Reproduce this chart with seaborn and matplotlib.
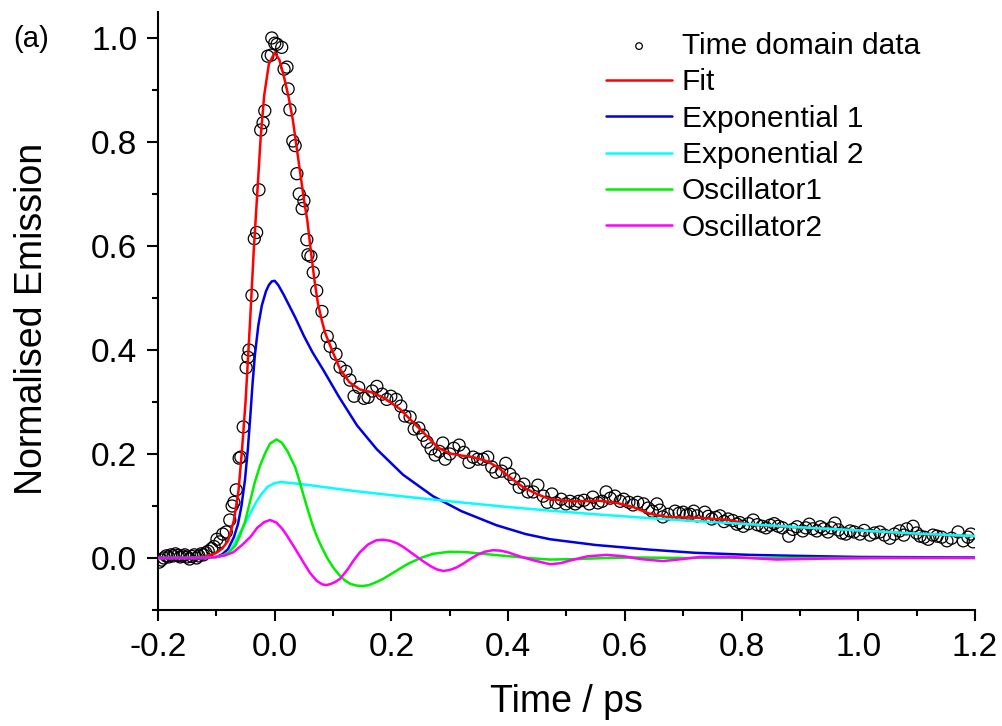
import matplotlib
matplotlib.use("Agg")
import matplotlib.pyplot as plt
import pandas as pd
import numpy as np
import seaborn as sns

# time domain data (ps, normalised emission)
t_data = [-0.198, -0.194, -0.190, -0.186, -0.182, -0.178, -0.174, -0.170, -0.166, -0.162,
          -0.158, -0.154, -0.150, -0.146, -0.142, -0.138, -0.134, -0.130, -0.126, -0.122,
          -0.118, -0.114, -0.108, -0.104, -0.099, -0.094, -0.089, -0.083, -0.077, -0.073,
          -0.070, -0.066, -0.061, -0.058, -0.054, -0.049, -0.046, -0.044, -0.039, -0.035,
          -0.031, -0.027, -0.024, -0.020, -0.017, -0.012, -0.006, -0.005, 0.000, 0.004,
          0.012, 0.016, 0.021, 0.023, 0.026, 0.031, 0.035, 0.038, 0.042, 0.047,
          0.050, 0.055, 0.057, 0.062, 0.066, 0.072, 0.081, 0.090, 0.095, 0.105,
          0.112, 0.122, 0.129, 0.136, 0.144, 0.153, 0.160, 0.167, 0.175, 0.184,
          0.192, 0.199, 0.208, 0.216, 0.223, 0.232, 0.239, 0.247, 0.254, 0.261,
          0.268, 0.275, 0.282, 0.288, 0.292, 0.300, 0.307, 0.316, 0.324, 0.333,
          0.340, 0.348, 0.357, 0.365, 0.372, 0.379, 0.389, 0.396, 0.403, 0.410,
          0.419, 0.427, 0.434, 0.443, 0.451, 0.460, 0.467, 0.475, 0.482, 0.491,
          0.499, 0.506, 0.515, 0.521, 0.530, 0.539, 0.545, 0.554, 0.561, 0.568,
          0.575, 0.583, 0.592, 0.598, 0.607, 0.614, 0.622, 0.632, 0.640, 0.647,
          0.655, 0.660, 0.665, 0.674, 0.686, 0.693, 0.700, 0.706, 0.712, 0.718,
          0.724, 0.737, 0.743, 0.749, 0.756, 0.763, 0.770, 0.777, 0.785, 0.792,
          0.797, 0.803, 0.812, 0.820, 0.827, 0.835, 0.842, 0.849, 0.856, 0.863,
          0.870, 0.881, 0.888, 0.895, 0.905, 0.910, 0.916, 0.922, 0.929, 0.935,
          0.941, 0.948, 0.954, 0.960, 0.966, 0.972, 0.979, 0.986, 0.993, 1.003,
          1.010, 1.020, 1.028, 1.037, 1.045, 1.054, 1.062, 1.071, 1.078, 1.083,
          1.094, 1.100, 1.106, 1.113, 1.120, 1.128, 1.135, 1.143, 1.152, 1.160,
          1.171, 1.180, 1.188, 1.193, 1.197]
em_data = [-0.008, -0.004, 0.000, 0.004, 0.002, 0.006, 0.004, 0.008, 0.005, 0.002,
           0.004, 0.006, 0.002, -0.002, 0.003, 0.006, 0.000, 0.004, 0.008, 0.006,
           0.010, 0.013, 0.018, 0.022, 0.036, 0.031, 0.046, 0.050, 0.073, 0.100,
           0.107, 0.131, 0.192, 0.194, 0.252, 0.366, 0.386, 0.400, 0.505, 0.614,
           0.626, 0.708, 0.823, 0.837, 0.860, 0.965, 0.967, 1.000, 0.990, 0.988,
           0.982, 0.940, 0.944, 0.902, 0.862, 0.802, 0.793, 0.739, 0.700, 0.672,
           0.687, 0.612, 0.583, 0.580, 0.549, 0.514, 0.474, 0.426, 0.407, 0.392,
           0.367, 0.359, 0.342, 0.311, 0.328, 0.307, 0.309, 0.321, 0.330, 0.315,
           0.305, 0.311, 0.305, 0.292, 0.273, 0.271, 0.248, 0.250, 0.236, 0.223,
           0.210, 0.198, 0.205, 0.221, 0.190, 0.200, 0.211, 0.217, 0.203, 0.184,
           0.194, 0.190, 0.190, 0.194, 0.175, 0.165, 0.167, 0.182, 0.161, 0.152,
           0.136, 0.142, 0.127, 0.127, 0.140, 0.119, 0.107, 0.123, 0.106, 0.113,
           0.104, 0.109, 0.104, 0.109, 0.111, 0.104, 0.117, 0.106, 0.109, 0.127,
           0.115, 0.119, 0.109, 0.113, 0.107, 0.102, 0.107, 0.104, 0.096, 0.090,
           0.104, 0.092, 0.079, 0.084, 0.090, 0.086, 0.088, 0.083, 0.084, 0.090,
           0.081, 0.088, 0.080, 0.075, 0.078, 0.081, 0.070, 0.075, 0.072, 0.065,
           0.068, 0.061, 0.066, 0.073, 0.064, 0.061, 0.058, 0.063, 0.066, 0.061,
           0.058, 0.042, 0.055, 0.060, 0.052, 0.058, 0.065, 0.056, 0.052, 0.060,
           0.056, 0.050, 0.058, 0.067, 0.054, 0.048, 0.046, 0.052, 0.050, 0.046,
           0.053, 0.044, 0.048, 0.050, 0.044, 0.038, 0.046, 0.052, 0.044, 0.056,
           0.061, 0.048, 0.042, 0.040, 0.036, 0.044, 0.042, 0.040, 0.033, 0.038,
           0.050, 0.033, 0.040, 0.046, 0.031]

# fit and its components
t_fit = [-0.200, -0.150, -0.120, -0.100, -0.090, -0.080, -0.070, -0.062, -0.056, -0.050,
         -0.042, -0.036, -0.030, -0.024, -0.018, -0.010, 0.000, 0.008, 0.016, 0.024,
         0.031, 0.040, 0.050, 0.056, 0.062, 0.068, 0.074, 0.080, 0.086, 0.098,
         0.112, 0.128, 0.146, 0.168, 0.190, 0.215, 0.237, 0.261, 0.280, 0.300,
         0.320, 0.340, 0.364, 0.383, 0.403, 0.426, 0.449, 0.472, 0.511, 0.557,
         0.586, 0.614, 0.643, 0.672, 0.729, 0.780, 0.814, 0.871, 0.957, 1.015,
         1.100, 1.200]
fit = [0.000, 0.000, 0.002, 0.010, 0.018, 0.033, 0.072, 0.130, 0.209, 0.300,
       0.460, 0.590, 0.700, 0.810, 0.890, 0.950, 0.972, 0.958, 0.925, 0.885,
       0.843, 0.770, 0.690, 0.648, 0.590, 0.535, 0.490, 0.460, 0.434, 0.400,
       0.363, 0.338, 0.324, 0.318, 0.306, 0.286, 0.261, 0.234, 0.212, 0.201,
       0.197, 0.194, 0.186, 0.174, 0.155, 0.136, 0.123, 0.113, 0.109, 0.110,
       0.106, 0.098, 0.085, 0.079, 0.077, 0.073, 0.064, 0.060, 0.056, 0.052,
       0.046, 0.042]

t_exp1 = [-0.200, -0.120, -0.100, -0.090, -0.080, -0.070, -0.063, -0.057, -0.051, -0.046,
          -0.042, -0.038, -0.034, -0.028, -0.022, -0.015, -0.010, -0.005, 0.000, 0.006,
          0.015, 0.025, 0.035, 0.050, 0.065, 0.083, 0.110, 0.141, 0.175, 0.220,
          0.271, 0.320, 0.380, 0.430, 0.472, 0.550, 0.643, 0.720, 0.814, 0.900,
          1.000, 1.200]
exp1 = [0.000, 0.000, 0.002, 0.007, 0.017, 0.040, 0.065, 0.100, 0.150, 0.210,
        0.270, 0.335, 0.390, 0.448, 0.486, 0.513, 0.525, 0.532, 0.533, 0.525,
        0.507, 0.485, 0.463, 0.427, 0.395, 0.362, 0.310, 0.255, 0.209, 0.160,
        0.119, 0.090, 0.063, 0.046, 0.036, 0.025, 0.016, 0.010, 0.006, 0.004,
        0.002, 0.001]

t_exp2 = [-0.200, -0.120, -0.100, -0.085, -0.075, -0.068, -0.060, -0.050, -0.040, -0.032,
          -0.022, -0.012, 0.000, 0.010, 0.030, 0.060, 0.100, 0.150, 0.215, 0.300,
          0.400, 0.472, 0.550, 0.650, 0.750, 0.814, 0.900, 1.000, 1.100, 1.200]
exp2 = [0.000, 0.000, 0.002, 0.006, 0.015, 0.030, 0.048, 0.068, 0.090, 0.107,
        0.124, 0.137, 0.144, 0.146, 0.144, 0.140, 0.134, 0.127, 0.119, 0.109,
        0.098, 0.091, 0.084, 0.076, 0.069, 0.065, 0.059, 0.053, 0.047, 0.042]

t_osc1 = [-0.200, -0.120, -0.100, -0.090, -0.080, -0.068, -0.060, -0.051, -0.042, -0.034,
          -0.025, -0.017, -0.008, 0.003, 0.012, 0.022, 0.035, 0.043, 0.050, 0.058,
          0.065, 0.072, 0.080, 0.090, 0.100, 0.110, 0.120, 0.130, 0.140, 0.151,
          0.162, 0.175, 0.186, 0.205, 0.227, 0.250, 0.271, 0.300, 0.330, 0.357,
          0.385, 0.415, 0.445, 0.472, 0.520, 0.570, 0.620, 0.700, 1.200]
osc1 = [0.000, 0.000, 0.002, 0.004, 0.010, 0.023, 0.042, 0.069, 0.110, 0.146,
        0.178, 0.200, 0.220, 0.228, 0.222, 0.205, 0.175, 0.146, 0.118, 0.088,
        0.063, 0.042, 0.022, 0.000, -0.018, -0.032, -0.043, -0.050, -0.053, -0.054,
        -0.052, -0.046, -0.040, -0.027, -0.012, 0.000, 0.008, 0.012, 0.011, 0.008,
        0.005, 0.002, -0.001, -0.003, -0.002, 0.000, 0.001, 0.000, 0.000]

t_osc2 = [-0.200, -0.120, -0.100, -0.085, -0.071, -0.056, -0.042, -0.030, -0.018, -0.008,
          0.003, 0.013, 0.021, 0.035, 0.049, 0.060, 0.072, 0.082, 0.089, 0.096,
          0.104, 0.112, 0.125, 0.135, 0.146, 0.160, 0.174, 0.186, 0.198, 0.210,
          0.222, 0.233, 0.244, 0.254, 0.266, 0.278, 0.289, 0.300, 0.312, 0.323,
          0.335, 0.347, 0.360, 0.374, 0.388, 0.402, 0.420, 0.445, 0.472, 0.490,
          0.506, 0.535, 0.569, 0.600, 0.626, 0.665, 0.700, 0.729, 0.780, 0.860,
          0.950, 1.050, 1.200]
osc2 = [0.000, 0.000, 0.002, 0.005, 0.011, 0.025, 0.040, 0.058, 0.069, 0.073,
        0.068, 0.056, 0.043, 0.018, -0.008, -0.028, -0.044, -0.051, -0.052, -0.050,
        -0.046, -0.040, -0.022, -0.005, 0.011, 0.026, 0.034, 0.035, 0.033, 0.028,
        0.020, 0.011, 0.002, -0.006, -0.015, -0.022, -0.025, -0.023, -0.018, -0.011,
        -0.002, 0.006, 0.012, 0.015, 0.014, 0.010, 0.003, -0.005, -0.012, -0.010,
        -0.005, 0.003, 0.006, 0.003, -0.002, -0.006, -0.002, 0.002, 0.002, -0.003,
        -0.001, 0.000, 0.000]

sns.set_style("ticks")
plt.rcParams["font.family"] = ["Liberation Sans", "DejaVu Sans"]
plt.rcParams["axes.unicode_minus"] = False
for key in ["text.color", "axes.labelcolor", "xtick.color", "ytick.color", "axes.edgecolor"]:
    plt.rcParams[key] = "black"

fig = plt.figure(figsize=(10.02, 7.26), dpi=100)
ax = fig.add_axes([0.1577, 0.1598, 0.8153, 0.8237])

sns.scatterplot(x=t_data, y=em_data, ax=ax, s=75, marker="o", facecolor="none",
                edgecolor="black", linewidth=0.9, label="Time domain data", zorder=3)

curves = [(t_fit, fit, "#ff0000", "Fit"),
          (t_exp1, exp1, "#0000e6", "Exponential 1"),
          (t_exp2, exp2, "#00ffff", "Exponential 2"),
          (t_osc1, osc1, "#00ee00", "Oscillator1"),
          (t_osc2, osc2, "#ff00ff", "Oscillator2")]
for tt, yy, col, lab in curves:
    sns.lineplot(x=tt, y=yy, ax=ax, color=col, linewidth=1.8, label=lab,
                 sort=False, estimator=None, zorder=4)

ax.set_xlim(-0.2, 1.2)
ax.set_ylim(-0.1, 1.05)
ax.set_xticks([-0.2, 0.0, 0.2, 0.4, 0.6, 0.8, 1.0, 1.2])
ax.set_xticks([-0.1, 0.1, 0.3, 0.5, 0.7, 0.9, 1.1], minor=True)
ax.set_yticks([0.0, 0.2, 0.4, 0.6, 0.8, 1.0])
ax.set_yticks([-0.1, 0.1, 0.3, 0.5, 0.7, 0.9], minor=True)
ax.xaxis.set_major_formatter(matplotlib.ticker.FormatStrFormatter("%.1f"))
ax.yaxis.set_major_formatter(matplotlib.ticker.FormatStrFormatter("%.1f"))
ax.tick_params(which="major", direction="out", length=8, width=1.5, labelsize=24)
ax.tick_params(axis="x", which="major", pad=8)
ax.tick_params(axis="y", which="major", pad=7)
ax.tick_params(which="minor", direction="out", length=4, width=1.5)
sns.despine(ax=ax)
for sp in ["left", "bottom"]:
    ax.spines[sp].set_linewidth(1.5)

ax.set_xlabel("Time / ps", fontsize=27)
ax.set_ylabel("Normalised Emission", fontsize=27)
ax.xaxis.set_label_coords(0.5, -0.124)
ax.yaxis.set_label_coords(-0.132, 0.487)
fig.text(0.013, 0.966, "(a)", fontsize=21, va="top")

leg = ax.legend(loc="upper left", bbox_to_anchor=(0.605, 0.956), bbox_transform=fig.transFigure,
                frameon=False, fontsize=21.5, handlelength=2.2, handletextpad=0.33,
                labelspacing=0.28, borderpad=0, borderaxespad=0, markerscale=0.55)

fig.savefig("out.png", dpi=100)
